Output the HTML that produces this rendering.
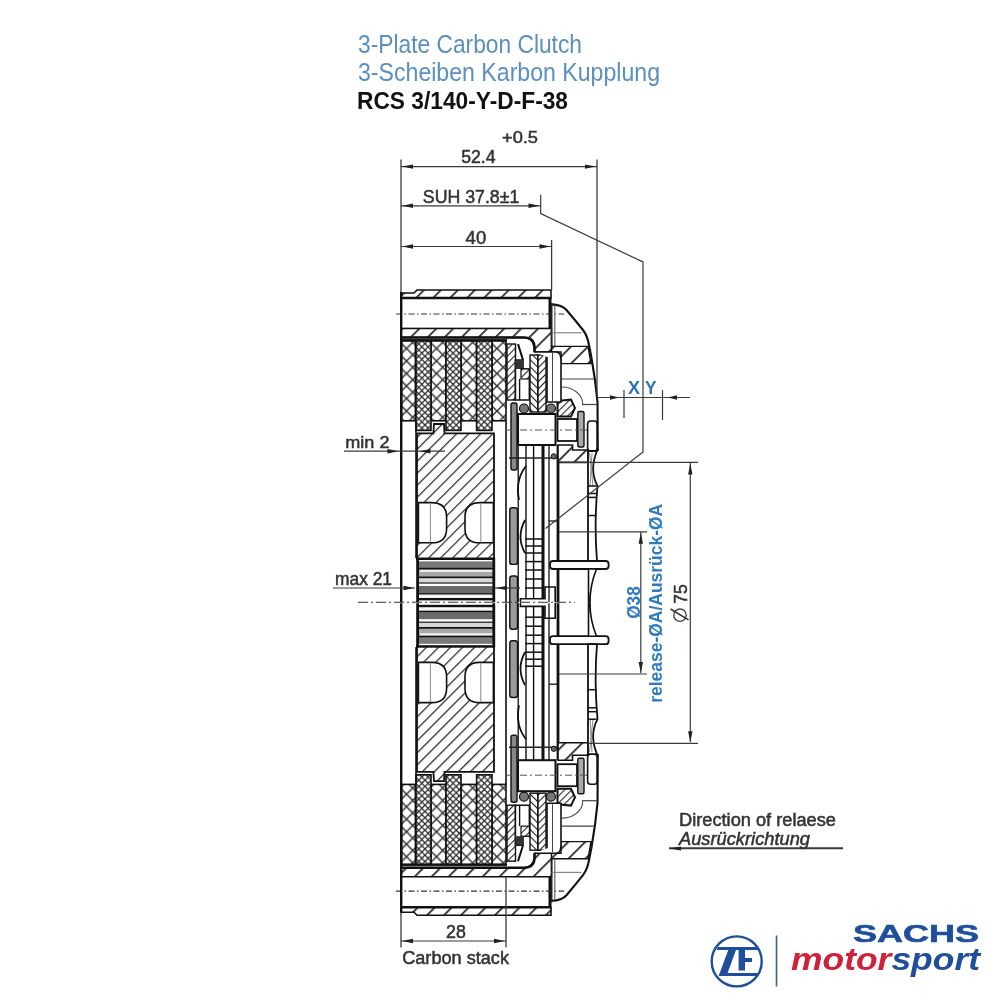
<!DOCTYPE html>
<html><head><meta charset="utf-8"><title>RCS 3/140 Carbon Clutch</title>
<style>html,body{margin:0;padding:0;background:#fff;width:1000px;height:1000px;overflow:hidden} svg{display:block;filter:blur(0.65px)}</style>
</head><body>
<svg width="1000" height="1000" viewBox="0 0 1000 1000">
<defs><pattern id="HA" patternUnits="userSpaceOnUse" width="12" height="12" patternTransform="rotate(45)"><rect width="12" height="12" fill="#fff"/><rect x="0" y="0" width="1.7" height="12" fill="#222"/></pattern><pattern id="HBA" patternUnits="userSpaceOnUse" width="8.5" height="8.5" patternTransform="rotate(45)"><rect width="8.5" height="8.5" fill="#fff"/><rect x="0" y="0" width="1.2" height="8.5" fill="#222"/></pattern><pattern id="HFA" patternUnits="userSpaceOnUse" width="5" height="5" patternTransform="rotate(45)"><rect width="5" height="5" fill="#fff"/><rect x="0" y="0" width="1.1" height="5" fill="#222"/></pattern><pattern id="HRA" patternUnits="userSpaceOnUse" width="5" height="5" patternTransform="rotate(-45)"><rect width="5" height="5" fill="#fff"/><rect x="0" y="0" width="1.1" height="5" fill="#222"/></pattern><pattern id="HB" patternUnits="userSpaceOnUse" width="12" height="12" patternTransform="rotate(-45)"><rect width="12" height="12" fill="#fff"/><rect x="0" y="0" width="1.7" height="12" fill="#222"/></pattern><pattern id="HBB" patternUnits="userSpaceOnUse" width="8.5" height="8.5" patternTransform="rotate(-45)"><rect width="8.5" height="8.5" fill="#fff"/><rect x="0" y="0" width="1.2" height="8.5" fill="#222"/></pattern><pattern id="HFB" patternUnits="userSpaceOnUse" width="5" height="5" patternTransform="rotate(-45)"><rect width="5" height="5" fill="#fff"/><rect x="0" y="0" width="1.1" height="5" fill="#222"/></pattern><pattern id="HRB" patternUnits="userSpaceOnUse" width="5" height="5" patternTransform="rotate(45)"><rect width="5" height="5" fill="#fff"/><rect x="0" y="0" width="1.1" height="5" fill="#222"/></pattern><pattern id="CL0A" patternUnits="userSpaceOnUse" width="12.5" height="12.5" patternTransform="translate(406.5,348.5)"><rect width="12.5" height="12.5" fill="#fff"/><path d="M-1,-1 L13.5,13.5 M13.5,-1 L-1,13.5" stroke="#333" stroke-width="1.5"/></pattern><pattern id="CL0B" patternUnits="userSpaceOnUse" width="12.5" height="12.5" patternTransform="translate(406.5,348.5)"><rect width="12.5" height="12.5" fill="#fff"/><path d="M-1,-1 L13.5,13.5 M13.5,-1 L-1,13.5" stroke="#333" stroke-width="1.5"/></pattern><pattern id="CL1A" patternUnits="userSpaceOnUse" width="12.5" height="12.5" patternTransform="translate(436.5,348.5)"><rect width="12.5" height="12.5" fill="#fff"/><path d="M-1,-1 L13.5,13.5 M13.5,-1 L-1,13.5" stroke="#333" stroke-width="1.5"/></pattern><pattern id="CL1B" patternUnits="userSpaceOnUse" width="12.5" height="12.5" patternTransform="translate(436.5,348.5)"><rect width="12.5" height="12.5" fill="#fff"/><path d="M-1,-1 L13.5,13.5 M13.5,-1 L-1,13.5" stroke="#333" stroke-width="1.5"/></pattern><pattern id="CL2A" patternUnits="userSpaceOnUse" width="12.5" height="12.5" patternTransform="translate(466.5,348.5)"><rect width="12.5" height="12.5" fill="#fff"/><path d="M-1,-1 L13.5,13.5 M13.5,-1 L-1,13.5" stroke="#333" stroke-width="1.5"/></pattern><pattern id="CL2B" patternUnits="userSpaceOnUse" width="12.5" height="12.5" patternTransform="translate(466.5,348.5)"><rect width="12.5" height="12.5" fill="#fff"/><path d="M-1,-1 L13.5,13.5 M13.5,-1 L-1,13.5" stroke="#333" stroke-width="1.5"/></pattern><pattern id="CL3A" patternUnits="userSpaceOnUse" width="12.5" height="12.5" patternTransform="translate(497,348.5)"><rect width="12.5" height="12.5" fill="#fff"/><path d="M-1,-1 L13.5,13.5 M13.5,-1 L-1,13.5" stroke="#333" stroke-width="1.5"/></pattern><pattern id="CL3B" patternUnits="userSpaceOnUse" width="12.5" height="12.5" patternTransform="translate(497,348.5)"><rect width="12.5" height="12.5" fill="#fff"/><path d="M-1,-1 L13.5,13.5 M13.5,-1 L-1,13.5" stroke="#333" stroke-width="1.5"/></pattern><pattern id="CD" patternUnits="userSpaceOnUse" width="6.25" height="6.25"><rect width="6.25" height="6.25" fill="#fff"/><path d="M-1,-1 L7.25,7.25 M7.25,-1 L-1,7.25" stroke="#2a2a2a" stroke-width="1.25"/></pattern></defs>
<rect width="1000" height="1000" fill="#fff"/>
<g><path d="M401,298 L401,293 L414,293 L417,290 L551,290 L551,298 Z" fill="url(#HA)" stroke="#111" stroke-width="1.6"/>
<rect x="401" y="298" width="149" height="30.5" fill="#fff" stroke="#111" stroke-width="1.3"/>
<line x1="401" y1="298" x2="551" y2="298" stroke="#111" stroke-width="2.4"/>
<rect x="548.5" y="298" width="3" height="31" fill="#111"/>
<line x1="396" y1="314" x2="564" y2="314" stroke="#333" stroke-width="1.2" stroke-dasharray="6,2.5,1.5,2.5"/>
<path d="M401,328.5 L551.5,328.5 L551.5,352 L534.5,352 L534.5,347 Q532,337.5 524,337.5 L401,337.5 Z" fill="url(#HA)" stroke="#111" stroke-width="1.3"/>
<path d="M401,337.5 L524,337.5 Q534,337.5 534.5,347 L534.5,352" fill="none" stroke="#111" stroke-width="2.6"/>
<rect x="401" y="339" width="106" height="2.2" fill="#222"/>
<rect x="401.6" y="341" width="13.799999999999955" height="79.80000000000001" fill="url(#CL0A)" stroke="#111" stroke-width="1.6"/>
<rect x="431" y="341" width="15" height="79.80000000000001" fill="url(#CL1A)" stroke="#111" stroke-width="1.6"/>
<rect x="461" y="341" width="15.600000000000023" height="79.80000000000001" fill="url(#CL2A)" stroke="#111" stroke-width="1.6"/>
<rect x="492" y="341" width="14" height="79.80000000000001" fill="url(#CL3A)" stroke="#111" stroke-width="1.6"/>
<rect x="416" y="341" width="15" height="89.39999999999998" fill="url(#CD)" stroke="#111" stroke-width="1.6"/>
<rect x="446" y="341" width="15" height="89.39999999999998" fill="url(#CD)" stroke="#111" stroke-width="1.6"/>
<rect x="476.6" y="341" width="15.399999999999977" height="89.39999999999998" fill="url(#CD)" stroke="#111" stroke-width="1.6"/>
<path d="M417,558.4 L417,433.4 L433.4,433.4 L434,424 L444,424 L444.5,433.4 L494,433.4 L494,558.4" fill="url(#HBA)" stroke="#111" stroke-width="1.8"/>
<path d="M418.4,502.6 L432,502.6 Q446.6,502.6 446.6,517 L446.6,528.4 Q446.6,542.8 432,542.8 L418.4,542.8 Z" fill="#fff" stroke="#111" stroke-width="1.6"/>
<line x1="430.4" y1="503" x2="430.4" y2="542.5" stroke="#888" stroke-width="1"/>
<path d="M493.4,502.6 L479.5,502.6 Q465,502.6 465,517 L465,528.4 Q465,542.8 479.5,542.8 L493.4,542.8 Z" fill="#fff" stroke="#111" stroke-width="1.6"/>
<line x1="480.8" y1="503" x2="480.8" y2="542.5" stroke="#888" stroke-width="1"/>
<rect x="416" y="557.5" width="79" height="2.5" fill="#111"/>
<rect x="419" y="561.4" width="74" height="6.600000000000023" fill="#7a7a7a"/>
<rect x="419" y="569.2" width="74" height="7.199999999999932" fill="#a8a8a8"/>
<rect x="419" y="578.2" width="74" height="4.199999999999932" fill="#d8d8d8"/>
<rect x="419" y="583.6" width="74" height="2.3999999999999773" fill="#fff"/>
<rect x="419" y="586" width="74" height="7.2000000000000455" fill="#6a6a6a"/>
<rect x="419" y="594.4" width="74" height="3.6000000000000227" fill="#f4f4f4"/>
<rect x="419" y="600.4" width="74" height="1.8000000000000682" fill="#fff"/>
<rect x="419" y="567.8000000000001" width="74" height="1.6" fill="#111"/>
<rect x="419" y="576.4" width="74" height="1.8" fill="#111"/>
<rect x="419" y="582.4" width="74" height="1.2" fill="#111"/>
<rect x="419" y="593.0999999999999" width="74" height="1.4" fill="#111"/>
<rect x="419" y="598.0" width="74" height="2.4" fill="#111"/>
<rect x="420" y="570" width="73" height="2" fill="#eee"/>
<rect x="416.2" y="558" width="2.8" height="44" fill="#111"/>
<rect x="492.4" y="558" width="2.8" height="44" fill="#111"/>
<rect x="400" y="292" width="2.4" height="310" fill="#111"/>
<rect x="415.2" y="421" width="1.6" height="137" fill="#111"/>
<rect x="505.2" y="421" width="1.6" height="181" fill="#111"/>
<rect x="507" y="344" width="8.5" height="56" fill="url(#HFA)" stroke="#111" stroke-width="1.4"/>
<path d="M518,344 L523,360" stroke="#111" stroke-width="2"/>
<path d="M515.4,360 L523,360 L523,369 L529.4,369 L529.4,400 L515.4,400 Z" fill="#fff" stroke="#111" stroke-width="1.6"/>
<rect x="515.4" y="360" width="7.6" height="9" fill="#333"/>
<rect x="521" y="369" width="8.4" height="10" fill="url(#HFA)" stroke="#111" stroke-width="1.2"/>
<line x1="519.6" y1="379" x2="519.6" y2="400" stroke="#111" stroke-width="1.4"/>
<rect x="530" y="355" width="7.8" height="57" fill="url(#HRA)" stroke="#111" stroke-width="1.4"/>
<rect x="538" y="355" width="8" height="57" fill="url(#HFA)" stroke="#111" stroke-width="1.4"/>
<circle cx="524" cy="408.5" r="4.5" fill="#777" stroke="#111" stroke-width="1.2"/>
<circle cx="551" cy="408.5" r="4.5" fill="#777" stroke="#111" stroke-width="1.2"/>
<rect x="511" y="403" width="6" height="67" rx="2" fill="#888" stroke="#111" stroke-width="1.4"/>
<rect x="518" y="414" width="37.5" height="31" fill="#fff" stroke="#111" stroke-width="2"/>
<path d="M557.5,401 L571,399.6 L575,408 L571,416.4 L557.5,416.4 Z" fill="url(#HFA)" stroke="#111" stroke-width="2"/>
<rect x="557.5" y="419" width="19.5" height="22" fill="#fff" stroke="#111" stroke-width="1.8"/>
<rect x="577.8" y="411.5" width="6.2" height="35.5" rx="1.5" fill="#aaa" stroke="#111" stroke-width="1.4"/>
<line x1="505" y1="430" x2="590" y2="430" stroke="#555" stroke-width="1" stroke-dasharray="7,3,2,3"/>
<path d="M561.7,387 A21,17 0 0 1 582.7,404" fill="none" stroke="#555" stroke-width="1.2"/>
<rect x="587.6" y="421" width="9.6" height="30" rx="3" fill="#fff" stroke="#111" stroke-width="1.6"/>
<path d="M551.6,304.4 C558,304.6 563,306 566.5,310 L576.5,322 L583,330 C586,334 588,339 589,345 L591.5,358 C594,372 596,386 597.5,402 L597.8,451" fill="none" stroke="#111" stroke-width="2.1"/>
<line x1="554.8" y1="306" x2="554.8" y2="346" stroke="#666" stroke-width="1.2"/>
<line x1="551.6" y1="303" x2="551.6" y2="347" stroke="#222" stroke-width="1.8"/>
<line x1="551.6" y1="332.8" x2="581.6" y2="332.8" stroke="#888" stroke-width="1.2"/>
<path d="M551.6,346.4 L588,346.4 L591,363.6 L561,363.6 L561,352 L551.6,352 Z" fill="url(#HA)" stroke="#111" stroke-width="1.4"/>
<path d="M534.5,352 L556,352 Q561,352 561,360 L561,402 L547,402 L547,357" fill="#fff" stroke="#111" stroke-width="1.6"/>
<line x1="552.5" y1="353" x2="552.5" y2="401" stroke="#444" stroke-width="1"/>
<line x1="561" y1="379" x2="594" y2="379" stroke="#444" stroke-width="1.2"/>
<line x1="582" y1="404.5" x2="597" y2="404.5" stroke="#444" stroke-width="1.2"/>
<rect x="517.5500000000001" y="445" width="1.3" height="157" fill="#111"/>
<rect x="525.3" y="445" width="1.4" height="157" fill="#111"/>
<rect x="532.9" y="445" width="1.4" height="157" fill="#111"/>
<rect x="541.5" y="445" width="3" height="157" fill="#111"/>
<rect x="548.35" y="445" width="1.3" height="157" fill="#111"/>
<rect x="556.6" y="445" width="2.8" height="157" fill="#111"/>
<line x1="509" y1="458" x2="558" y2="458" stroke="#222" stroke-width="1.4"/>
<path d="M558,445 L572.5,445 L572.5,450 L588,450 L588,462.4 L558,462.4 Z" fill="url(#HA)" stroke="#111" stroke-width="1.6"/>
<circle cx="553.8" cy="456.4" r="2.6" fill="#666" stroke="#111" stroke-width="1"/>
<path d="M526,466 Q515,480 519,500" fill="none" stroke="#111" stroke-width="1.8"/>
<path d="M525,520 Q516,537 525,553" fill="none" stroke="#111" stroke-width="1.8"/>
<rect x="509.8" y="507.7" width="7.7" height="56.7" rx="2.5" fill="#9a9a9a" stroke="#111" stroke-width="1.4"/>
<line x1="549" y1="521" x2="558" y2="521" stroke="#111" stroke-width="1.3"/>
<line x1="525" y1="539" x2="543" y2="539" stroke="#111" stroke-width="1.5"/>
<line x1="525" y1="546" x2="543" y2="546" stroke="#111" stroke-width="1.5"/>
<line x1="525" y1="553" x2="543" y2="553" stroke="#111" stroke-width="1.5"/>
<line x1="525" y1="561.6" x2="543" y2="561.6" stroke="#111" stroke-width="1.5"/>
<line x1="525" y1="570" x2="543" y2="570" stroke="#111" stroke-width="1.5"/>
<line x1="525" y1="579" x2="543" y2="579" stroke="#111" stroke-width="1.5"/>
<line x1="525" y1="588" x2="543" y2="588" stroke="#111" stroke-width="1.5"/>
<rect x="520.4" y="598.8" width="25" height="3.4" fill="#fff"/>
<path d="M520.4,602.2 L520.4,598.8 L545,598.8 L545,587 L555.2,587 L555.2,602.2" fill="none" stroke="#111" stroke-width="1.6"/>
<rect x="550" y="561" width="58.6" height="8" rx="3" fill="#fff" stroke="#111" stroke-width="1.8"/>
<path d="M588.5,569 L588.5,602 L590,602 Q590,585 596.5,569 Z" fill="#fff" stroke="#111" stroke-width="1.6"/>
<path d="M588,451 L597,451 Q589,470 597.5,486 Q594,525 597,561 L588,561 Z" fill="#fff" stroke="#111" stroke-width="1.8"/>
<path d="M589.5,453 L593,486 M592,453 L590,486" stroke="#888" stroke-width="1"/>
<line x1="588" y1="486" x2="596.5" y2="486" stroke="#111" stroke-width="1.5"/>
<line x1="588" y1="493.5" x2="596.5" y2="493.5" stroke="#111" stroke-width="1.5"/>
<line x1="588" y1="497.4" x2="596.5" y2="497.4" stroke="#111" stroke-width="1.5"/>
<line x1="588" y1="515.5" x2="596.5" y2="515.5" stroke="#111" stroke-width="1.5"/></g>
<g transform="matrix(1,0,0,-1,0,1205.2)"><path d="M401,298 L401,293 L414,293 L417,290 L551,290 L551,298 Z" fill="url(#HB)" stroke="#111" stroke-width="1.6"/>
<rect x="401" y="298" width="149" height="30.5" fill="#fff" stroke="#111" stroke-width="1.3"/>
<line x1="401" y1="298" x2="551" y2="298" stroke="#111" stroke-width="2.4"/>
<rect x="548.5" y="298" width="3" height="31" fill="#111"/>
<line x1="396" y1="314" x2="564" y2="314" stroke="#333" stroke-width="1.2" stroke-dasharray="6,2.5,1.5,2.5"/>
<path d="M401,328.5 L551.5,328.5 L551.5,352 L534.5,352 L534.5,347 Q532,337.5 524,337.5 L401,337.5 Z" fill="url(#HB)" stroke="#111" stroke-width="1.3"/>
<path d="M401,337.5 L524,337.5 Q534,337.5 534.5,347 L534.5,352" fill="none" stroke="#111" stroke-width="2.6"/>
<rect x="401" y="339" width="106" height="2.2" fill="#222"/>
<rect x="401.6" y="341" width="13.799999999999955" height="79.80000000000001" fill="url(#CL0B)" stroke="#111" stroke-width="1.6"/>
<rect x="431" y="341" width="15" height="79.80000000000001" fill="url(#CL1B)" stroke="#111" stroke-width="1.6"/>
<rect x="461" y="341" width="15.600000000000023" height="79.80000000000001" fill="url(#CL2B)" stroke="#111" stroke-width="1.6"/>
<rect x="492" y="341" width="14" height="79.80000000000001" fill="url(#CL3B)" stroke="#111" stroke-width="1.6"/>
<rect x="416" y="341" width="15" height="89.39999999999998" fill="url(#CD)" stroke="#111" stroke-width="1.6"/>
<rect x="446" y="341" width="15" height="89.39999999999998" fill="url(#CD)" stroke="#111" stroke-width="1.6"/>
<rect x="476.6" y="341" width="15.399999999999977" height="89.39999999999998" fill="url(#CD)" stroke="#111" stroke-width="1.6"/>
<path d="M417,558.4 L417,433.4 L433.4,433.4 L434,424 L444,424 L444.5,433.4 L494,433.4 L494,558.4" fill="url(#HBB)" stroke="#111" stroke-width="1.8"/>
<path d="M418.4,502.6 L432,502.6 Q446.6,502.6 446.6,517 L446.6,528.4 Q446.6,542.8 432,542.8 L418.4,542.8 Z" fill="#fff" stroke="#111" stroke-width="1.6"/>
<line x1="430.4" y1="503" x2="430.4" y2="542.5" stroke="#888" stroke-width="1"/>
<path d="M493.4,502.6 L479.5,502.6 Q465,502.6 465,517 L465,528.4 Q465,542.8 479.5,542.8 L493.4,542.8 Z" fill="#fff" stroke="#111" stroke-width="1.6"/>
<line x1="480.8" y1="503" x2="480.8" y2="542.5" stroke="#888" stroke-width="1"/>
<rect x="416" y="557.5" width="79" height="2.5" fill="#111"/>
<rect x="419" y="561.4" width="74" height="6.600000000000023" fill="#7a7a7a"/>
<rect x="419" y="569.2" width="74" height="7.199999999999932" fill="#a8a8a8"/>
<rect x="419" y="578.2" width="74" height="4.199999999999932" fill="#d8d8d8"/>
<rect x="419" y="583.6" width="74" height="2.3999999999999773" fill="#fff"/>
<rect x="419" y="586" width="74" height="7.2000000000000455" fill="#6a6a6a"/>
<rect x="419" y="594.4" width="74" height="3.6000000000000227" fill="#f4f4f4"/>
<rect x="419" y="600.4" width="74" height="1.8000000000000682" fill="#fff"/>
<rect x="419" y="567.8000000000001" width="74" height="1.6" fill="#111"/>
<rect x="419" y="576.4" width="74" height="1.8" fill="#111"/>
<rect x="419" y="582.4" width="74" height="1.2" fill="#111"/>
<rect x="419" y="593.0999999999999" width="74" height="1.4" fill="#111"/>
<rect x="419" y="598.0" width="74" height="2.4" fill="#111"/>
<rect x="420" y="570" width="73" height="2" fill="#eee"/>
<rect x="416.2" y="558" width="2.8" height="44" fill="#111"/>
<rect x="492.4" y="558" width="2.8" height="44" fill="#111"/>
<rect x="400" y="292" width="2.4" height="310" fill="#111"/>
<rect x="415.2" y="421" width="1.6" height="137" fill="#111"/>
<rect x="505.2" y="421" width="1.6" height="181" fill="#111"/>
<rect x="507" y="344" width="8.5" height="56" fill="url(#HFB)" stroke="#111" stroke-width="1.4"/>
<path d="M518,344 L523,360" stroke="#111" stroke-width="2"/>
<path d="M515.4,360 L523,360 L523,369 L529.4,369 L529.4,400 L515.4,400 Z" fill="#fff" stroke="#111" stroke-width="1.6"/>
<rect x="515.4" y="360" width="7.6" height="9" fill="#333"/>
<rect x="521" y="369" width="8.4" height="10" fill="url(#HFB)" stroke="#111" stroke-width="1.2"/>
<line x1="519.6" y1="379" x2="519.6" y2="400" stroke="#111" stroke-width="1.4"/>
<rect x="530" y="355" width="7.8" height="57" fill="url(#HRB)" stroke="#111" stroke-width="1.4"/>
<rect x="538" y="355" width="8" height="57" fill="url(#HFB)" stroke="#111" stroke-width="1.4"/>
<circle cx="524" cy="408.5" r="4.5" fill="#777" stroke="#111" stroke-width="1.2"/>
<circle cx="551" cy="408.5" r="4.5" fill="#777" stroke="#111" stroke-width="1.2"/>
<rect x="511" y="403" width="6" height="67" rx="2" fill="#888" stroke="#111" stroke-width="1.4"/>
<rect x="518" y="414" width="37.5" height="31" fill="#fff" stroke="#111" stroke-width="2"/>
<path d="M557.5,401 L571,399.6 L575,408 L571,416.4 L557.5,416.4 Z" fill="url(#HFB)" stroke="#111" stroke-width="2"/>
<rect x="557.5" y="419" width="19.5" height="22" fill="#fff" stroke="#111" stroke-width="1.8"/>
<rect x="577.8" y="411.5" width="6.2" height="35.5" rx="1.5" fill="#aaa" stroke="#111" stroke-width="1.4"/>
<line x1="505" y1="430" x2="590" y2="430" stroke="#555" stroke-width="1" stroke-dasharray="7,3,2,3"/>
<path d="M561.7,387 A21,17 0 0 1 582.7,404" fill="none" stroke="#555" stroke-width="1.2"/>
<rect x="587.6" y="421" width="9.6" height="30" rx="3" fill="#fff" stroke="#111" stroke-width="1.6"/>
<path d="M551.6,304.4 C558,304.6 563,306 566.5,310 L576.5,322 L583,330 C586,334 588,339 589,345 L591.5,358 C594,372 596,386 597.5,402 L597.8,451" fill="none" stroke="#111" stroke-width="2.1"/>
<line x1="554.8" y1="306" x2="554.8" y2="346" stroke="#666" stroke-width="1.2"/>
<line x1="551.6" y1="303" x2="551.6" y2="347" stroke="#222" stroke-width="1.8"/>
<line x1="551.6" y1="332.8" x2="581.6" y2="332.8" stroke="#888" stroke-width="1.2"/>
<path d="M551.6,346.4 L588,346.4 L591,363.6 L561,363.6 L561,352 L551.6,352 Z" fill="url(#HB)" stroke="#111" stroke-width="1.4"/>
<path d="M534.5,352 L556,352 Q561,352 561,360 L561,402 L547,402 L547,357" fill="#fff" stroke="#111" stroke-width="1.6"/>
<line x1="552.5" y1="353" x2="552.5" y2="401" stroke="#444" stroke-width="1"/>
<line x1="561" y1="379" x2="594" y2="379" stroke="#444" stroke-width="1.2"/>
<line x1="582" y1="404.5" x2="597" y2="404.5" stroke="#444" stroke-width="1.2"/>
<rect x="517.5500000000001" y="445" width="1.3" height="157" fill="#111"/>
<rect x="525.3" y="445" width="1.4" height="157" fill="#111"/>
<rect x="532.9" y="445" width="1.4" height="157" fill="#111"/>
<rect x="541.5" y="445" width="3" height="157" fill="#111"/>
<rect x="548.35" y="445" width="1.3" height="157" fill="#111"/>
<rect x="556.6" y="445" width="2.8" height="157" fill="#111"/>
<line x1="509" y1="458" x2="558" y2="458" stroke="#222" stroke-width="1.4"/>
<path d="M558,445 L572.5,445 L572.5,450 L588,450 L588,462.4 L558,462.4 Z" fill="url(#HB)" stroke="#111" stroke-width="1.6"/>
<circle cx="553.8" cy="456.4" r="2.6" fill="#666" stroke="#111" stroke-width="1"/>
<path d="M526,466 Q515,480 519,500" fill="none" stroke="#111" stroke-width="1.8"/>
<path d="M525,520 Q516,537 525,553" fill="none" stroke="#111" stroke-width="1.8"/>
<rect x="509.8" y="507.7" width="7.7" height="56.7" rx="2.5" fill="#9a9a9a" stroke="#111" stroke-width="1.4"/>
<line x1="549" y1="521" x2="558" y2="521" stroke="#111" stroke-width="1.3"/>
<line x1="525" y1="539" x2="543" y2="539" stroke="#111" stroke-width="1.5"/>
<line x1="525" y1="546" x2="543" y2="546" stroke="#111" stroke-width="1.5"/>
<line x1="525" y1="553" x2="543" y2="553" stroke="#111" stroke-width="1.5"/>
<line x1="525" y1="561.6" x2="543" y2="561.6" stroke="#111" stroke-width="1.5"/>
<line x1="525" y1="570" x2="543" y2="570" stroke="#111" stroke-width="1.5"/>
<line x1="525" y1="579" x2="543" y2="579" stroke="#111" stroke-width="1.5"/>
<line x1="525" y1="588" x2="543" y2="588" stroke="#111" stroke-width="1.5"/>
<rect x="520.4" y="598.8" width="25" height="3.4" fill="#fff"/>
<path d="M520.4,602.2 L520.4,598.8 L545,598.8 L545,587 L555.2,587 L555.2,602.2" fill="none" stroke="#111" stroke-width="1.6"/>
<rect x="550" y="561" width="58.6" height="8" rx="3" fill="#fff" stroke="#111" stroke-width="1.8"/>
<path d="M588.5,569 L588.5,602 L590,602 Q590,585 596.5,569 Z" fill="#fff" stroke="#111" stroke-width="1.6"/>
<path d="M588,451 L597,451 Q589,470 597.5,486 Q594,525 597,561 L588,561 Z" fill="#fff" stroke="#111" stroke-width="1.8"/>
<path d="M589.5,453 L593,486 M592,453 L590,486" stroke="#888" stroke-width="1"/>
<line x1="588" y1="486" x2="596.5" y2="486" stroke="#111" stroke-width="1.5"/>
<line x1="588" y1="493.5" x2="596.5" y2="493.5" stroke="#111" stroke-width="1.5"/>
<line x1="588" y1="497.4" x2="596.5" y2="497.4" stroke="#111" stroke-width="1.5"/>
<line x1="588" y1="515.5" x2="596.5" y2="515.5" stroke="#111" stroke-width="1.5"/></g>
<rect x="509.8" y="576" width="7.7" height="53.2" rx="2.5" fill="#9a9a9a" stroke="#111" stroke-width="1.4"/>
<line x1="401" y1="159.5" x2="401" y2="292" stroke="#3a3a3a" stroke-width="1.3"/>
<line x1="597" y1="159.5" x2="597" y2="397" stroke="#3a3a3a" stroke-width="1.3"/>
<line x1="401" y1="166.6" x2="597" y2="166.6" stroke="#3a3a3a" stroke-width="1.2"/>
<polygon points="402.0,166.6 413.0,164.4 413.0,168.8" fill="#222"/>
<polygon points="596.0,166.6 585.0,168.8 585.0,164.4" fill="#222"/>
<line x1="401" y1="205.8" x2="540.7" y2="205.8" stroke="#3a3a3a" stroke-width="1.2"/>
<polygon points="402.0,205.8 413.0,203.6 413.0,208.0" fill="#222"/>
<polygon points="539.5,205.8 528.5,208.0 528.5,203.6" fill="#222"/>
<polyline points="540.7,194.8 540.7,213.5 643,262 643,452 545.5,528.5" fill="none" stroke="#3a3a3a" stroke-width="1.2"/>
<line x1="551.6" y1="240" x2="551.6" y2="290" stroke="#3a3a3a" stroke-width="1.3"/>
<line x1="401" y1="246.5" x2="551.6" y2="246.5" stroke="#3a3a3a" stroke-width="1.2"/>
<polygon points="402.0,246.5 413.0,244.3 413.0,248.7" fill="#222"/>
<polygon points="550.5,246.5 539.5,248.7 539.5,244.3" fill="#222"/>
<line x1="597" y1="397.5" x2="690" y2="397.5" stroke="#3a3a3a" stroke-width="1.2"/>
<polygon points="619.0,397.5 610.0,399.7 610.0,395.3" fill="#222"/>
<polygon points="668.0,397.5 677.0,395.3 677.0,399.7" fill="#222"/>
<line x1="624" y1="390" x2="624" y2="418" stroke="#3a3a3a" stroke-width="1.2"/>
<line x1="662.5" y1="390" x2="662.5" y2="420" stroke="#3a3a3a" stroke-width="1.2"/>
<line x1="344" y1="451.2" x2="445" y2="451.2" stroke="#3a3a3a" stroke-width="1.2"/>
<polygon points="398.5,451.2 387.5,453.4 387.5,449.0" fill="#222"/>
<polygon points="419.5,451.2 430.5,449.0 430.5,453.4" fill="#222"/>
<line x1="333" y1="588" x2="415" y2="588" stroke="#3a3a3a" stroke-width="1.2"/>
<line x1="494" y1="588" x2="520" y2="588" stroke="#3a3a3a" stroke-width="1.2"/>
<polygon points="414.5,588.0 403.5,590.2 403.5,585.8" fill="#222"/>
<polygon points="496.0,588.0 507.0,585.8 507.0,590.2" fill="#222"/>
<line x1="358" y1="602.2" x2="575" y2="602.2" stroke="#333" stroke-width="1.1" stroke-dasharray="10,3,2,3"/>
<line x1="560" y1="462.4" x2="698" y2="462.4" stroke="#3a3a3a" stroke-width="1.2"/>
<line x1="588" y1="743.3" x2="698" y2="743.3" stroke="#3a3a3a" stroke-width="1.2"/>
<line x1="690.3" y1="463" x2="690.3" y2="742" stroke="#3a3a3a" stroke-width="1.2"/>
<polygon points="690.3,463.5 692.5,474.5 688.1,474.5" fill="#222"/>
<polygon points="690.3,742.3 688.1,731.3 692.5,731.3" fill="#222"/>
<line x1="559" y1="531.8" x2="647" y2="531.8" stroke="#3a3a3a" stroke-width="1.2"/>
<line x1="559" y1="674" x2="647" y2="674" stroke="#3a3a3a" stroke-width="1.2"/>
<line x1="640.8" y1="532" x2="640.8" y2="673" stroke="#3a3a3a" stroke-width="1.2"/>
<polygon points="640.8,532.8 643.0,543.8 638.6,543.8" fill="#222"/>
<polygon points="640.8,673.0 638.6,662.0 643.0,662.0" fill="#222"/>
<line x1="401" y1="912" x2="401" y2="947.5" stroke="#3a3a3a" stroke-width="1.3"/>
<line x1="506" y1="877" x2="506" y2="947.5" stroke="#3a3a3a" stroke-width="1.3"/>
<line x1="401" y1="941" x2="506" y2="941" stroke="#3a3a3a" stroke-width="1.2"/>
<polygon points="402.0,941.0 413.0,938.8 413.0,943.2" fill="#222"/>
<polygon points="505.0,941.0 494.0,943.2 494.0,938.8" fill="#222"/>
<line x1="669" y1="848.3" x2="843" y2="848.3" stroke="#3a3a3a" stroke-width="2"/>
<polygon points="669.0,848.5 681.0,846.5 681.0,850.5" fill="#222"/>
<text x="358" y="52.7" font-family="Liberation Sans" font-size="25" font-weight="normal" font-style="normal" fill="#5a8fc0" textLength="224" lengthAdjust="spacingAndGlyphs" stroke="#5a8fc0" stroke-width="0" >3-Plate Carbon Clutch</text>
<text x="358" y="80.5" font-family="Liberation Sans" font-size="25" font-weight="normal" font-style="normal" fill="#5a8fc0" textLength="302" lengthAdjust="spacingAndGlyphs" stroke="#5a8fc0" stroke-width="0" >3-Scheiben Karbon Kupplung</text>
<text x="357" y="109" font-family="Liberation Sans" font-size="23" font-weight="bold" font-style="normal" fill="#111" textLength="211" lengthAdjust="spacingAndGlyphs" stroke="#111" stroke-width="0" >RCS 3/140-Y-D-F-38</text>
<text x="502" y="143.3" font-family="Liberation Sans" font-size="16" font-weight="normal" font-style="normal" fill="#333" textLength="36" lengthAdjust="spacingAndGlyphs" stroke="#333" stroke-width="0.5" >+0.5</text>
<text x="461.2" y="163.3" font-family="Liberation Sans" font-size="17.5" font-weight="normal" font-style="normal" fill="#333" textLength="34.4" lengthAdjust="spacingAndGlyphs" stroke="#333" stroke-width="0.5" >52.4</text>
<text x="422.8" y="202.6" font-family="Liberation Sans" font-size="17.5" font-weight="normal" font-style="normal" fill="#333" textLength="96.5" lengthAdjust="spacingAndGlyphs" stroke="#333" stroke-width="0.5" >SUH 37.8±1</text>
<text x="465.6" y="243.5" font-family="Liberation Sans" font-size="17.5" font-weight="normal" font-style="normal" fill="#333" textLength="20.6" lengthAdjust="spacingAndGlyphs" stroke="#333" stroke-width="0.5" >40</text>
<text x="345.3" y="447.5" font-family="Liberation Sans" font-size="17" font-weight="normal" font-style="normal" fill="#333" textLength="44.2" lengthAdjust="spacingAndGlyphs" stroke="#333" stroke-width="0.5" >min 2</text>
<text x="335" y="584.8" font-family="Liberation Sans" font-size="17.5" font-weight="normal" font-style="normal" fill="#333" textLength="57" lengthAdjust="spacingAndGlyphs" stroke="#333" stroke-width="0.5" >max 21</text>
<text x="402.2" y="964.2" font-family="Liberation Sans" font-size="17.5" font-weight="normal" font-style="normal" fill="#333" textLength="106.8" lengthAdjust="spacingAndGlyphs" stroke="#333" stroke-width="0.5" >Carbon stack</text>
<text x="446" y="937.8" font-family="Liberation Sans" font-size="17.5" font-weight="normal" font-style="normal" fill="#333" textLength="19.8" lengthAdjust="spacingAndGlyphs" stroke="#333" stroke-width="0.5" >28</text>
<text x="628" y="393.5" font-family="Liberation Sans" font-size="18.5" font-weight="bold" font-style="normal" fill="#2f72b3" textLength="12" lengthAdjust="spacingAndGlyphs" stroke="#2f72b3" stroke-width="0" >X</text>
<text x="645" y="393.5" font-family="Liberation Sans" font-size="18.5" font-weight="bold" font-style="normal" fill="#2f72b3" textLength="11.5" lengthAdjust="spacingAndGlyphs" stroke="#2f72b3" stroke-width="0" >Y</text>
<text x="679" y="825.5" font-family="Liberation Sans" font-size="17.5" font-weight="normal" font-style="normal" fill="#333" textLength="157" lengthAdjust="spacingAndGlyphs" stroke="#333" stroke-width="0.5" >Direction of relaese</text>
<text x="679" y="844.5" font-family="Liberation Sans" font-size="17.5" font-weight="normal" font-style="italic" fill="#333" textLength="131" lengthAdjust="spacingAndGlyphs" stroke="#333" stroke-width="0.5" >Ausrückrichtung</text>
<g transform="translate(640,618.8) rotate(-90)"><text x="0" y="0" font-family="Liberation Sans" font-size="17.5" font-weight="bold" font-style="normal" fill="#2e7bc2" textLength="32.5" lengthAdjust="spacingAndGlyphs" stroke="#2e7bc2" stroke-width="0" >Ø38</text></g>
<g transform="translate(661.5,702.8) rotate(-90)"><text x="0" y="0" font-family="Liberation Sans" font-size="17.5" font-weight="bold" font-style="normal" fill="#2e7bc2" textLength="199" lengthAdjust="spacingAndGlyphs" stroke="#2e7bc2" stroke-width="0" >release-ØA/Ausrück-ØA</text></g>
<g transform="translate(686.8,603.8) rotate(-90)"><text x="0" y="0" font-family="Liberation Sans" font-size="17.5" font-weight="normal" font-style="normal" fill="#333" textLength="19.4" lengthAdjust="spacingAndGlyphs" stroke="#333" stroke-width="0.5" >75</text></g>
<circle cx="680" cy="615.2" r="6.2" fill="none" stroke="#444" stroke-width="1.4"/>
<line x1="670.5" y1="609" x2="688.5" y2="619.8" stroke="#333" stroke-width="1.5"/>
<circle cx="736.7" cy="961.4" r="25" fill="#fff" stroke="#1f4f9a" stroke-width="2.4"/>
<path d="M717.5,947 L758.5,947 L758,949.9 L736,949.9 L727.6,972.9 L757.6,972.9 L757,975.9 L718.6,975.9 L728.3,949.9 L716.8,949.9 Z" fill="#1f4f9a"/>
<rect x="738.6" y="949.5" width="6.4" height="21" fill="#1f4f9a"/>
<rect x="744.5" y="958" width="7.5" height="4" fill="#1f4f9a"/>
<line x1="776.5" y1="935.5" x2="776.5" y2="986.5" stroke="#3d5f8f" stroke-width="1.6"/>
<text x="853" y="942.4" font-family="Liberation Sans" font-size="24" font-weight="bold" font-style="normal" fill="#1f4f9a" textLength="126" lengthAdjust="spacingAndGlyphs" stroke="#1f4f9a" stroke-width="0.6" >SACHS</text>
<text x="791" y="970" font-family="Liberation Sans" font-size="32" font-weight="bold" font-style="italic" textLength="189" lengthAdjust="spacingAndGlyphs"><tspan fill="#d0213a">motor</tspan><tspan fill="#1f4f9a">sport</tspan></text>
</svg>
</body></html>
